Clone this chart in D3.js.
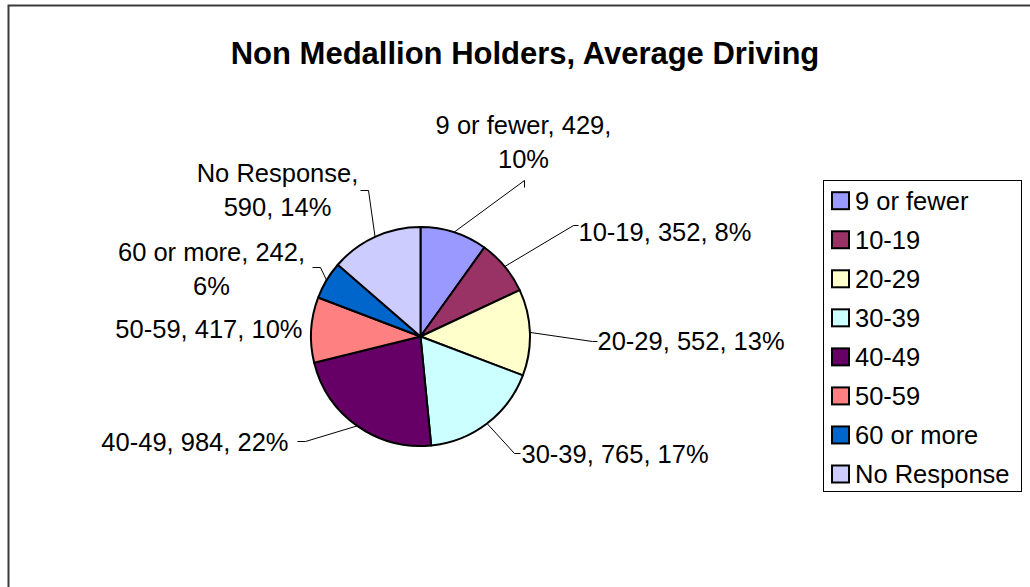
<!DOCTYPE html>
<html>
<head>
<meta charset="utf-8">
<script src="https://cdn.jsdelivr.net/npm/d3@7"></script>
<style>
  html, body { margin: 0; padding: 0; background: #fff; }
  svg { display: block; }
  text { font-family: "Liberation Sans", Arial, sans-serif; fill: #000; }
</style>
</head>
<body>
<svg id="chart" width="1030" height="587"></svg>
<script>
// ---- data ----
const title = "Non Medallion Holders, Average Driving";
const categories = ["9 or fewer", "10-19", "20-29", "30-39", "40-49", "50-59", "60 or more", "No Response"];
const values = [429, 352, 552, 765, 984, 417, 242, 590];
const percentLabels = ["10%", "8%", "13%", "17%", "22%", "10%", "6%", "14%"];
const colors = ["#9999FF", "#993366", "#FFFFCC", "#CCFFFF", "#660066", "#FF8080", "#0066CC", "#CCCCFF"];

// ---- layout (label placement relative to pie centre) ----
const labelLayout = [
  { lines: 2, anchor: "middle", dx: 103, dy: -203, lead: [[104, -156], [104, -149]] },
  { lines: 1, anchor: "start",  dx: 158, dy: -96,  lead: [[153, -111], [158, -111]] },
  { lines: 1, anchor: "start",  dx: 177, dy: 13,   lead: [[172, 5], [177, 5]] },
  { lines: 1, anchor: "start",  dx: 101, dy: 126,  lead: [[94, 117], [100, 117]] },
  { lines: 1, anchor: "end",    dx: -132, dy: 114, lead: [[-115, 105], [-123, 105]] },
  { lines: 1, anchor: "end",    dx: -118, dy: 1,   lead: null },
  { lines: 2, anchor: "middle", dx: -209, dy: -76, lead: [[-100, -69], [-108, -69]] },
  { lines: 2, anchor: "middle", dx: -143, dy: -155, lead: [[-52, -146], [-60, -146]] }
];

const svg = d3.select("#chart");
const W = 1030, H = 587;

// outer frame
svg.append("rect")
  .attr("x", 8.5).attr("y", 5.5)
  .attr("width", W + 20).attr("height", H + 20)
  .attr("fill", "#fff").attr("stroke", "#3a3a3a").attr("stroke-width", 2);

// title
svg.append("text")
  .attr("x", 525).attr("y", 64)
  .attr("text-anchor", "middle")
  .attr("font-size", 31).attr("font-weight", "bold")
  .text(title);

// pie
const cx = 420.5, cy = 336.5, R = 109.5;
const pie = d3.pie().sort(null).value(d => d)(values);
const arc = d3.arc().innerRadius(0).outerRadius(R);
const edge = d3.arc().innerRadius(R).outerRadius(R);

const g = svg.append("g").attr("transform", `translate(${cx},${cy})`);
g.selectAll("path.slice").data(pie).enter().append("path")
  .attr("class", "slice")
  .attr("d", arc)
  .attr("fill", (d, i) => colors[i])
  .attr("stroke", "#000").attr("stroke-width", 2).attr("stroke-linejoin", "round");

// leader lines
const line = d3.line();
pie.forEach((d, i) => {
  const L = labelLayout[i];
  if (!L.lead) return;
  const p0 = edge.centroid(d);
  g.append("path")
    .attr("d", line([p0, ...L.lead]))
    .attr("fill", "none").attr("stroke", "#000").attr("stroke-width", 1);
});

// labels
const lineH = 34;
pie.forEach((d, i) => {
  const L = labelLayout[i];
  const t = g.append("text")
    .attr("text-anchor", L.anchor)
    .attr("font-size", 25.5);
  const full = `${categories[i]}, ${values[i]}, ${percentLabels[i]}`;
  let parts;
  if (L.lines === 2) {
    if (i === 7) parts = [`${categories[i]},`, `${values[i]}, ${percentLabels[i]}`];
    else parts = [`${categories[i]}, ${values[i]},`, `${percentLabels[i]}`];
  } else parts = [full];
  parts.forEach((p, k) => {
    t.append("tspan").attr("x", L.dx).attr("y", L.dy + k * lineH).text(p);
  });
});

// legend
const lg = svg.append("g");
lg.append("rect")
  .attr("x", 823.5).attr("y", 180.5).attr("width", 198).attr("height", 311)
  .attr("fill", "#fff").attr("stroke", "#000").attr("stroke-width", 1);
const rowY = d3.scalePoint().domain(categories).range([200.7, 474]);
categories.forEach((c, i) => {
  const y = rowY(c);
  lg.append("rect")
    .attr("x", 832).attr("y", y - 8.5).attr("width", 17).attr("height", 17)
    .attr("fill", colors[i]).attr("stroke", "#000").attr("stroke-width", 2);
  lg.append("text")
    .attr("x", 855).attr("y", y + 9)
    .attr("font-size", 25.5)
    .text(c);
});
</script>
</body>
</html>
